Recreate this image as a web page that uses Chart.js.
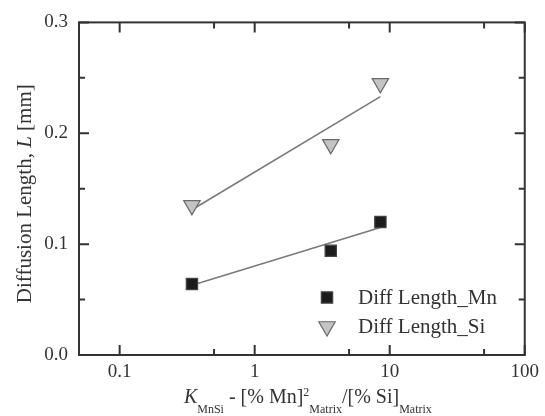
<!DOCTYPE html>
<html>
<head>
<meta charset="utf-8">
<script src="https://cdn.jsdelivr.net/npm/chart.js@4.4.0/dist/chart.umd.min.js"></script>
<style>
  html, body { margin: 0; padding: 0; background: #fff; }
</style>
</head>
<body>
<canvas id="chart" width="545" height="416"></canvas>
<script>
// values
const mnX = [0.343, 3.66, 8.53];
const mnY = [0.064, 0.094, 0.120];
const siX = [0.343, 3.66, 8.53];
const siY = [0.135, 0.190, 0.245];
const mnFitX = [0.343, 8.53];
const mnFitY = [0.063, 0.115];
const siFitX = [0.343, 8.53];
const siFitY = [0.131, 0.233];

const xMajor = [0.1, 1, 10, 100];
const xMinor = [0.5, 5, 50];
const yMajor = [0, 0.1, 0.2, 0.3];
const yMinor = [0.05, 0.15, 0.25];
const legendLabels = ['Diff Length_Mn', 'Diff Length_Si'];

const ink = '#333333';
const serif = '"Liberation Serif", "DejaVu Serif", serif';

toPoints = (xs, ys) => xs.map((x, i) => ({x: x, y: ys[i]}));

const mnStyle = {pointStyle: 'rect', radius: 8, rotation: 0, backgroundColor: '#1c1c1c', borderColor: '#444', borderWidth: 1.2};
const siStyle = {pointStyle: 'triangle', radius: 9.5, rotation: 180, backgroundColor: '#c4c4c4', borderColor: '#6a6a6a', borderWidth: 1.2};

const data = {
  datasets: [
    {
      label: legendLabels[0],
      data: toPoints(mnX, mnY),
      showLine: false,
      pointStyle: mnStyle.pointStyle,
      pointRadius: mnStyle.radius,
      pointBackgroundColor: mnStyle.backgroundColor,
      pointBorderColor: mnStyle.borderColor,
      pointBorderWidth: mnStyle.borderWidth
    },
    {
      label: legendLabels[1],
      data: toPoints(siX, siY),
      showLine: false,
      pointStyle: siStyle.pointStyle,
      pointRadius: siStyle.radius,
      pointRotation: siStyle.rotation,
      pointBackgroundColor: siStyle.backgroundColor,
      pointBorderColor: siStyle.borderColor,
      pointBorderWidth: siStyle.borderWidth
    },
    {
      label: 'fit Mn',
      data: toPoints(mnFitX, mnFitY),
      showLine: true,
      pointRadius: 0,
      borderColor: '#7a7a7a',
      borderWidth: 1.6
    },
    {
      label: 'fit Si',
      data: toPoints(siFitX, siFitY),
      showLine: true,
      pointRadius: 0,
      borderColor: '#7a7a7a',
      borderWidth: 1.6
    }
  ]
};

// draws a run of text pieces (italic / sub / superscript) starting at x
drawRuns = (ctx, runs, x, y, big) => {
  for (const r of runs) {
    const size = r.small ? 12 : big;
    ctx.font = (r.italic ? 'italic ' : '') + size + 'px ' + serif;
    ctx.fillText(r.t, x, y + (r.dy || 0));
    x += ctx.measureText(r.t).width;
  }
};
runsWidth = (ctx, runs, big) => {
  let w = 0;
  for (const r of runs) {
    const size = r.small ? 12 : big;
    ctx.font = (r.italic ? 'italic ' : '') + size + 'px ' + serif;
    w += ctx.measureText(r.t).width;
  }
  return w;
};

const xTitle = [
  {t: 'K', italic: true},
  {t: 'MnSi', small: true, dy: 10},
  {t: ' - [% Mn]'},
  {t: '2', small: true, dy: -7},
  {t: 'Matrix', small: true, dy: 10},
  {t: '/[% Si]'},
  {t: 'Matrix', small: true, dy: 10}
];
const yTitle = [
  {t: 'Diffusion Length, '},
  {t: 'L', italic: true},
  {t: ' [mm]'}
];

const framePlugin = {
  id: 'frame',
  afterDraw: (chart) => {
    const ctx = chart.ctx;
    const a = chart.chartArea;
    const sx = chart.scales.x;
    const sy = chart.scales.y;
    ctx.save();
    ctx.strokeStyle = ink;
    ctx.lineWidth = 2;
    ctx.strokeRect(a.left, a.top, a.right - a.left, a.bottom - a.top);

    // inward ticks on all four sides
    const tickX = (v, len) => {
      const px = sx.getPixelForValue(v);
      ctx.beginPath();
      ctx.moveTo(px, a.bottom); ctx.lineTo(px, a.bottom - len);
      ctx.moveTo(px, a.top); ctx.lineTo(px, a.top + len);
      ctx.stroke();
    };
    const tickY = (v, len) => {
      const py = sy.getPixelForValue(v);
      ctx.beginPath();
      ctx.moveTo(a.left, py); ctx.lineTo(a.left + len, py);
      ctx.moveTo(a.right, py); ctx.lineTo(a.right - len, py);
      ctx.stroke();
    };
    xMajor.forEach(v => tickX(v, 10));
    xMinor.forEach(v => tickX(v, 6));
    yMajor.forEach(v => tickY(v, 10));
    yMinor.forEach(v => tickY(v, 6));

    ctx.fillStyle = ink;
    ctx.textBaseline = 'alphabetic';
    ctx.textAlign = 'left';

    // x axis title
    const cx = (a.left + a.right) / 2 + 6;
    drawRuns(ctx, xTitle, cx - runsWidth(ctx, xTitle, 20) / 2, 403, 20);

    // y axis title
    ctx.save();
    ctx.translate(31, (a.top + a.bottom) / 2 + 5);
    ctx.rotate(-Math.PI / 2);
    drawRuns(ctx, yTitle, -runsWidth(ctx, yTitle, 21) / 2, 0, 21);
    ctx.restore();

    // legend inside the plot
    const lx = a.left + 248;
    const rows = [a.bottom - 57.5, a.bottom - 28.5];
    [mnStyle, siStyle].forEach((st, i) => {
      ctx.fillStyle = st.backgroundColor;
      ctx.strokeStyle = st.borderColor;
      ctx.lineWidth = st.borderWidth;
      Chart.helpers.drawPoint(ctx, st, lx, rows[i]);
      ctx.fillStyle = ink;
      ctx.font = '21px ' + serif;
      ctx.textBaseline = 'middle';
      ctx.fillText(legendLabels[i], lx + 31, rows[i] + 1);
    });
    ctx.restore();
  }
};

const config = {
  type: 'scatter',
  data: data,
  options: {
    responsive: false,
    animation: false,
    devicePixelRatio: 1,
    layout: {
      padding: {top: 17, right: 16, left: 0, bottom: 0}
    },
    plugins: {
      legend: {display: false},
      tooltip: {enabled: false}
    },
    scales: {
      x: {
        type: 'logarithmic',
        min: 0.05,
        max: 100,
        afterBuildTicks: (s) => { s.ticks = xMajor.map(v => ({value: v})); },
        afterFit: (s) => { s.height = 61; },
        grid: {display: false, drawTicks: false},
        border: {display: false},
        ticks: {
          padding: 6,
          color: ink,
          autoSkip: false,
          maxRotation: 0,
          font: {family: serif, size: 19},
          callback: (value) => String(value)
        }
      },
      y: {
        type: 'linear',
        min: 0,
        max: 0.3,
        afterBuildTicks: (s) => { s.ticks = yMajor.map(v => ({value: v})); },
        afterFit: (s) => { s.width = 79; },
        grid: {display: false, drawTicks: false},
        border: {display: false},
        ticks: {
          padding: 11,
          color: ink,
          font: {family: serif, size: 19},
          callback: (value) => value.toFixed(1)
        }
      }
    }
  },
  plugins: [framePlugin]
};

const myChart = new Chart(document.getElementById('chart'), config);
</script>
</body>
</html>
